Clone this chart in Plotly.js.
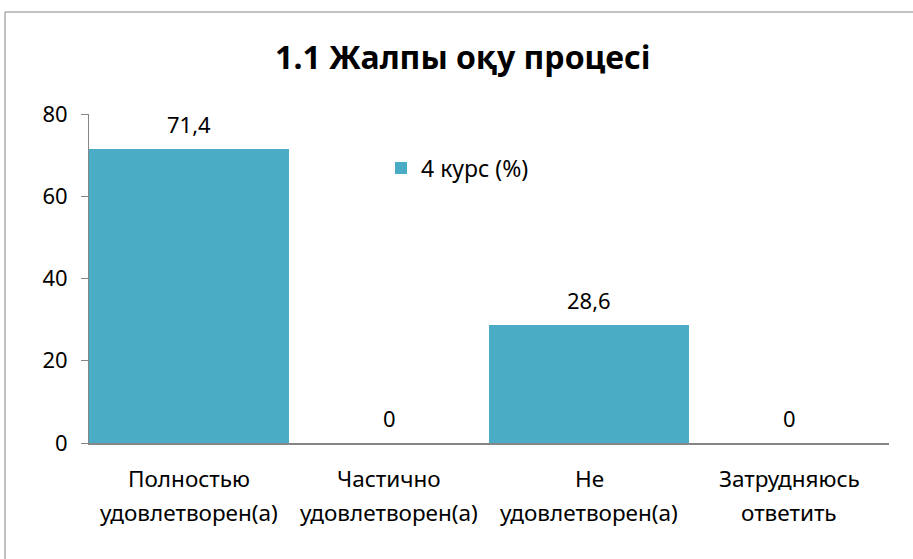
<!DOCTYPE html>
<html>
<head>
<meta charset="utf-8">
<script src="https://cdn.plot.ly/plotly-3.0.1.min.js"></script>
<style>
html,body{margin:0;padding:0;background:#fff;}
#chart{width:913px;height:559px;}
</style>
</head>
<body>
<div id="chart"></div>
<script>
const categories = ["Полностью удовлетворен(а)", "Частично удовлетворен(а)", "Не удовлетворен(а)", "Затрудняюсь ответить"];
const labelLine1 = ["Полностью", "Частично", "Не", "Затрудняюсь"];
const labelLine2 = ["удовлетворен(а)", "удовлетворен(а)", "удовлетворен(а)", "ответить"];
const values = [71.4, 0, 28.6, 0];
const seriesName = "4 курс (%)";
const yTicks = [0, 20, 40, 60, 80];
const chartTitle = "1.1 Жалпы оқу процесі";

const FONT = "Noto Sans, Open Sans, sans-serif";
const trace = {
  type: "bar",
  x: categories,
  y: values,
  name: seriesName,
  marker: {color: "#4BACC6"},
  hoverinfo: "none"
};

const fmt = v => String(v).replace(".", ",");
const annotations = [];
categories.forEach((c, i) => {
  annotations.push({x: c, xref: "x", yref: "paper", y: -0.107, yanchor: "middle", text: labelLine1[i], showarrow: false, font: {family: FONT, size: 22.5, color: "#000"}});
  annotations.push({x: c, xref: "x", yref: "paper", y: -0.21, yanchor: "middle", text: labelLine2[i], showarrow: false, font: {family: FONT, size: 22.5, color: "#000"}});
  annotations.push({x: c, xref: "x", y: values[i], yref: "y", yanchor: "middle", yshift: 25, text: fmt(values[i]), showarrow: false, font: {family: FONT, size: 22, color: "#000"}});
});

const layout = {
  width: 913, height: 559,
  margin: {l: 89, r: 24, t: 114, b: 116},
  paper_bgcolor: "#fff", plot_bgcolor: "#fff",
  title: {text: "<b>" + chartTitle + "</b>", font: {family: FONT, size: 32, color: "#000"}, x: 0.507, xanchor: "center", y: 1 - 58/559, yref: "container", yanchor: "middle"},
  bargap: 0,
  showlegend: true,
  legend: {x: (381-89)/800, y: 0.836, xanchor: "left", yanchor: "middle", font: {family: FONT, size: 23, color: "#000"}, bgcolor: "rgba(0,0,0,0)"},
  xaxis: {type: "category", range: [-0.5, 3.5], showticklabels: false, showline: true, linecolor: "#868686", linewidth: 2, ticks: "", showgrid: false, zeroline: false, fixedrange: true},
  yaxis: {range: [0, 80], tickvals: yTicks, showline: true, linecolor: "#868686", linewidth: 1, ticks: "outside", ticklen: 7, tickcolor: "#868686", showgrid: false, zeroline: false, tickfont: {family: FONT, size: 22, color: "#000"}, ticklabelstandoff: 9, fixedrange: true},
  annotations: annotations,
  shapes: [{type: "rect", xref: "paper", yref: "paper", x0: (5-89)/800, x1: 1.3, y0: -1, y1: (443-12)/329, line: {color: "#868686", width: 1}, fillcolor: "rgba(0,0,0,0)", layer: "below"}]
};

Plotly.newPlot("chart", [trace], layout, {displayModeBar: false, staticPlot: true});
</script>
</body>
</html>
